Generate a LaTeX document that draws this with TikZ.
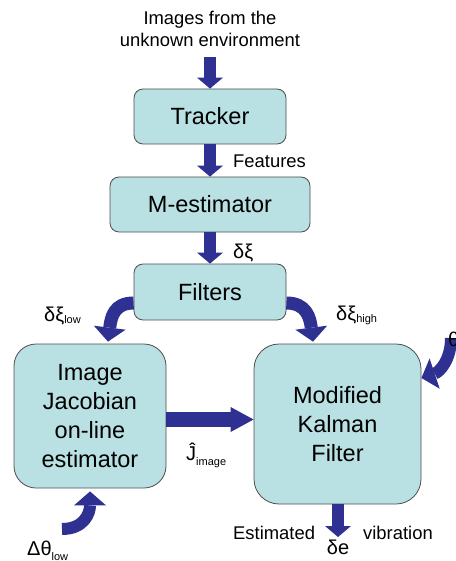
\documentclass[tikz,border=0pt]{standalone}
\usepackage{fontspec}
\setmainfont{Liberation Sans}
\usetikzlibrary{arrows.meta}
\definecolor{boxfill}{HTML}{B9E0E3}
\definecolor{boxline}{HTML}{4D4D4D}
\definecolor{flowblue}{HTML}{2E3192}
\newcommand{\lowidx}[2][2pt]{\raisebox{-#1}{\fontsize{11}{11}\selectfont #2}}
\begin{document}
\begin{tikzpicture}[x=1pt,y=-1pt,
  blk/.style={draw=boxline, fill=boxfill, line width=0.8pt, rounded corners=9pt,
    inner sep=0pt, align=center, font=\fontsize{23.5}{29}\selectfont},
  bigblk/.style={blk, rounded corners=22pt},
  lbl/.style={inner sep=0pt, font=\fontsize{18.4}{22}\selectfont},
  sym/.style={inner sep=0pt, font=\fontsize{20}{22}\selectfont},
  vflow/.style={draw=flowblue, line width=12pt,
    -{Triangle[width=26pt,length=11pt,line width=0pt]}},
  hflow/.style={draw=flowblue, line width=15pt,
    -{Triangle[width=25pt,length=23pt,line width=0pt]}},
  cflow/.style={draw=flowblue, line width=13pt,
    -{Triangle[width=32pt,length=14pt,line width=0pt]}},
]
\useasboundingbox (0,0) rectangle (455,561);

% processing blocks
\node[blk, minimum width=152pt, minimum height=55pt] (tracker) at (210,116.5) {Tracker};
\node[blk, minimum width=200pt, minimum height=55pt] (mest) at (210,204.5) {M-estimator};
\node[blk, minimum width=152pt, minimum height=56pt] (filters) at (210,292) {Filters};
\node[bigblk, minimum width=152pt, minimum height=144pt] (jac) at (90,416)
  {Image\\Jacobian\\on-line\\estimator};
\node[bigblk, rounded corners=25pt, minimum width=167pt, minimum height=160pt] (kal)
  at (337.5,424) {Modified\\Kalman\\Filter};

% input text and free arrow ends
\node[lbl, align=center] (imgtext) at (210,29) {Images from the\\unknown environment};
\coordinate (imgin) at (210,57);
\coordinate (thetain) at (451,338);
\coordinate (dthetain) at (62,529);
\coordinate (vibout) at (338,537);

% straight arrows
\draw[vflow] (imgin) -- (tracker.north);
\draw[vflow] (tracker.south) -- (mest.north);
\draw[vflow] (mest.south) -- (filters.north);
\draw[hflow] ([yshift=-3.5pt]jac.east) -- ([yshift=-3.5pt]jac.east -| kal.west);
\draw[vflow] (kal.south -| vibout) -- (vibout);

% curved arrows
\draw[cflow] ([yshift=-11pt]filters.west) .. controls +(-20,0) and +(3,-24) ..
  ([xshift=18pt,yshift=2pt]jac.north);
\draw[cflow] ([yshift=-11pt]filters.east) .. controls +(20,0) and +(-3,-24) ..
  ([xshift=-24.5pt,yshift=2pt]kal.north);
\draw[cflow, line width=12pt] (thetain) .. controls +(0,22) and +(18,-6) ..
  ([yshift=-378pt+424pt]kal.east);
\draw[cflow, line width=12pt] (dthetain) .. controls +(22,0) and +(0,22) ..
  ([xshift=0pt,yshift=-3pt]jac.south);

% labels
\node[lbl, anchor=west] (feat) at (233,161) {Features};
\node[sym, anchor=base west] (dxi) at (233,258) {δξ};
\node[sym, anchor=base west] (dxilow) at (44,321) {δξ\lowidx{low}};
\node[sym, anchor=base west] (dxihigh) at (336,320) {δξ\lowidx{high}};
\node[sym, anchor=base west] (jimg) at (186,460) {Ĵ\lowidx[5pt]{image}};
\node[sym, anchor=base west] (dthlow) at (27,555) {Δθ\lowidx[5pt]{low}};
\node[sym, anchor=west] (theta) at (448,339) {θ};
\node[lbl, anchor=west] (est) at (233,533) {Estimated};
\node[lbl, anchor=west] (vib) at (363,533) {vibration};
\node[sym, anchor=north] (de) at (338,540) {δe};
\end{tikzpicture}
\end{document}
